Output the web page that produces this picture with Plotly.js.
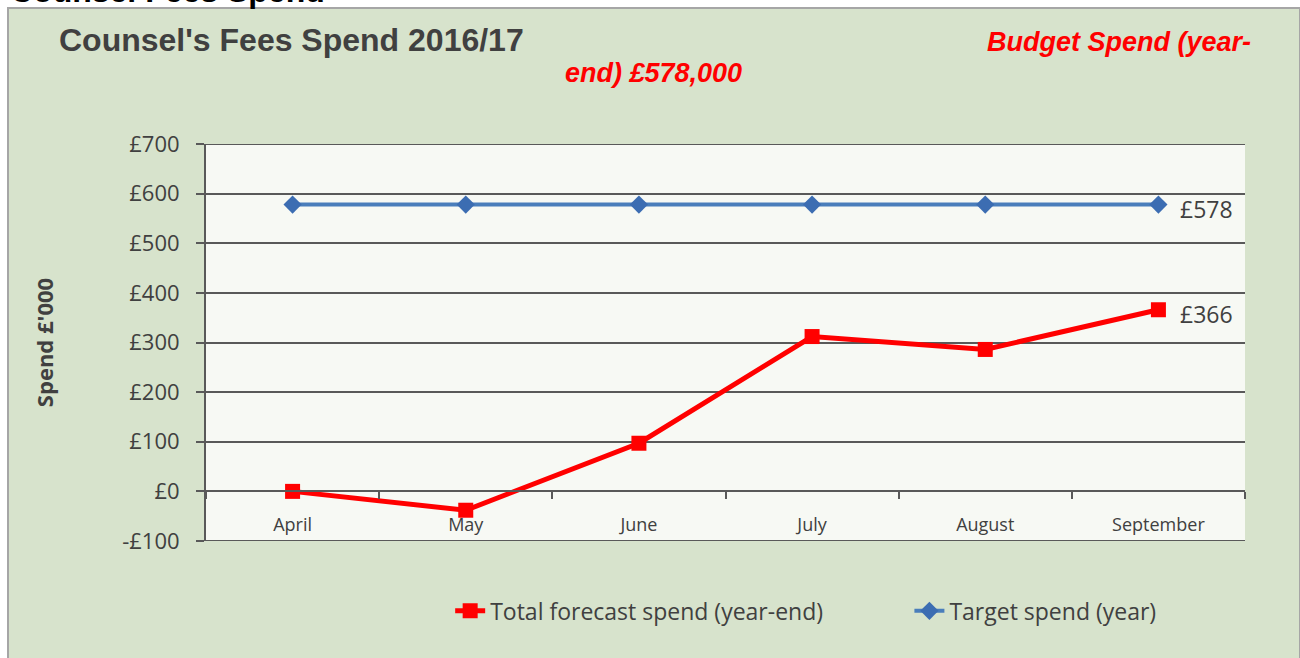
<!DOCTYPE html>
<html>
<head>
<meta charset="utf-8">
<script src="https://cdn.plot.ly/plotly-3.0.1.min.js"></script>
<style>
  body { margin: 0; background: #ffffff; width: 1300px; height: 658px; overflow: hidden; position: relative; }
  #frame { position: absolute; left: 7px; top: 7px; width: 1290px; height: 660px;
           background: #d7e3cc; border-left: 2px solid #a6a6a6; border-top: 2px solid #a6a6a6; border-right: 2px solid #a6a6a6; }
  #cut { position: absolute; left: 10px; top: -25px; font: bold 32px "Liberation Sans", Arial, sans-serif; color: #000; line-height: 32px; }
  #plot { position: absolute; left: 0; top: 0; width: 1300px; height: 658px; }
</style>
</head>
<body>
<div id="frame"></div>
<div id="cut">Counsel Fees Spend</div>
<div id="plot"></div>
<script>
// Months on the category axis
let months = ["April", "May", "June", "July", "August", "September"];

// Spend in £'000
let forecast = [0, -38, 97, 312, 286, 366];
let target = [578, 578, 578, 578, 578, 578];

// Y axis ticks
let yTicks = [-100, 0, 100, 200, 300, 400, 500, 600, 700];
let yLabels = yTicks.map(v => (v < 0 ? "-£" : "£") + Math.abs(v));

let sans = "Open Sans, Noto Sans, sans-serif";
let grey = "#404040";
let gridGrey = "#595959";

let forecastTrace = {
  x: months,
  y: forecast,
  type: "scatter",
  mode: "lines+markers",
  name: "Total forecast spend (year-end)",
  line: { color: "#ff0000", width: 5 },
  marker: { symbol: "square", size: 15, color: "#ff0000" },
  cliponaxis: false,
  legend: "legend"
};

let targetTrace = {
  x: months,
  y: target,
  type: "scatter",
  mode: "lines+markers",
  name: "Target spend (year)",
  line: { color: "#4a7ebb", width: 4 },
  marker: { symbol: "diamond", size: 14, color: "#3c6db2" },
  cliponaxis: false,
  legend: "legend2"
};

// value labels next to the last point of each series
let last = months.length - 1;
function endLabel(vals, shift) {
  return {
    x: months[last], y: vals[last],
    xref: "x", yref: "y",
    text: "£" + vals[last],
    xanchor: "left", yanchor: "middle",
    xshift: 20, yshift: shift,
    showarrow: false,
    font: { family: sans, size: 23, color: grey }
  };
}

// one legend box per series so they can sit apart like the original
function legendBox(x) {
  return {
    orientation: "h",
    x: x, xanchor: "left",
    y: -0.176, yanchor: "middle",
    font: { family: sans, size: 23, color: grey },
    bgcolor: "rgba(0,0,0,0)"
  };
}

let layout = {
  width: 1300,
  height: 658,
  margin: { l: 206, r: 55, t: 144, b: 117 },
  paper_bgcolor: "rgba(0,0,0,0)",
  plot_bgcolor: "#f7f9f4",
  showlegend: true,
  legend: legendBox(0.235),
  legend2: legendBox(0.677),
  xaxis: {
    type: "category",
    range: [-0.5, 5.5],
    anchor: "free",
    position: 0.126,
    showline: true,
    linecolor: gridGrey,
    linewidth: 2,
    ticks: "outside",
    tickson: "boundaries",
    ticklen: 7,
    tickwidth: 2,
    tickcolor: gridGrey,
    ticklabelstandoff: 17,
    showgrid: false,
    zeroline: false,
    tickfont: { family: sans, size: 18, color: grey }
  },
  yaxis: {
    range: [-100, 700],
    tickvals: yTicks,
    ticktext: yLabels,
    showline: true,
    linecolor: gridGrey,
    linewidth: 2,
    ticks: "outside",
    ticklen: 8,
    tickwidth: 2,
    tickcolor: gridGrey,
    ticklabelstandoff: 12,
    showgrid: true,
    gridcolor: gridGrey,
    gridwidth: 2,
    zeroline: false,
    tickfont: { family: sans, size: 22, color: grey },
    title: {
      text: "Spend £'000",
      font: { family: sans, size: 22, color: grey, weight: "bold" },
      standoff: 62
    }
  },
  shapes: [
    { type: "line", xref: "paper", yref: "y", x0: 0, x1: 1, y0: yTicks[0], y1: yTicks[0],
      line: { color: gridGrey, width: 2 } },
    { type: "line", xref: "paper", yref: "y", x0: 0, x1: 1, y0: yTicks[yTicks.length - 1], y1: yTicks[yTicks.length - 1],
      line: { color: gridGrey, width: 2 } }
  ],
  annotations: [
    endLabel(target, -4),
    endLabel(forecast, -4),
    {
      text: "<b>Counsel's Fees Spend 2016/17</b>",
      xref: "paper", yref: "paper",
      x: -0.143, xanchor: "left",
      y: 1.262, yanchor: "middle",
      showarrow: false,
      font: { family: "Liberation Sans, Arial, sans-serif", size: 32, color: grey }
    },
    {
      text: "<b><i>Budget Spend (year-</i></b>",
      xref: "paper", yref: "paper",
      x: 0.75, xanchor: "left",
      y: 1.257, yanchor: "middle",
      showarrow: false,
      font: { family: "Liberation Sans, Arial, sans-serif", size: 27, color: "#ff0000" }
    },
    {
      text: "<b><i>end) £578,000</i></b>",
      xref: "paper", yref: "paper",
      x: 0.344, xanchor: "left",
      y: 1.179, yanchor: "middle",
      showarrow: false,
      font: { family: "Liberation Sans, Arial, sans-serif", size: 27, color: "#ff0000" }
    }
  ]
};

Plotly.newPlot("plot", [forecastTrace, targetTrace], layout, { displayModeBar: false, staticPlot: true });
</script>
</body>
</html>
